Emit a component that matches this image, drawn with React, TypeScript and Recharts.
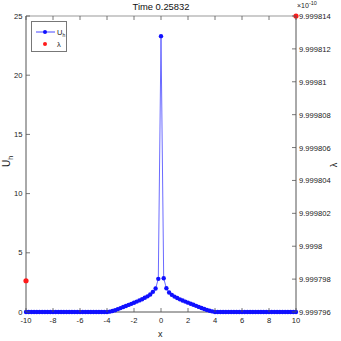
import { ComposedChart, Line, Scatter, XAxis, YAxis } from "recharts";

const xs = [
  -10, -9.8, -9.6, -9.4, -9.2, -9, -8.8, -8.6, -8.4, -8.2, -8, -7.8, -7.6, -7.4, -7.2, -7, -6.8, -6.6, -6.4, -6.2,
  -6, -5.8, -5.6, -5.4, -5.2, -5, -4.8, -4.6, -4.4, -4.2, -4, -3.8, -3.6, -3.4, -3.2, -3, -2.8, -2.6, -2.4, -2.2,
  -2, -1.8, -1.6, -1.4, -1.2, -1, -0.8, -0.6, -0.4, -0.2, 0, 0.2, 0.4, 0.6, 0.8, 1, 1.2, 1.4, 1.6, 1.8,
  2, 2.2, 2.4, 2.6, 2.8, 3, 3.2, 3.4, 3.6, 3.8, 4, 4.2, 4.4, 4.6, 4.8, 5, 5.2, 5.4, 5.6, 5.8,
  6, 6.2, 6.4, 6.6, 6.8, 7, 7.2, 7.4, 7.6, 7.8, 8, 8.2, 8.4, 8.6, 8.8, 9, 9.2, 9.4, 9.6, 9.8, 10,
];

const uh = [
  0, 0, 0, 0, 0, 0, 0, 0, 0, 0, 0, 0, 0, 0, 0, 0, 0, 0, 0, 0,
  0, 0, 0, 0, 0, 0, 0, 0, 0, 0, 0, 0.03, 0.08, 0.15, 0.24, 0.33, 0.42, 0.51, 0.6, 0.69,
  0.78, 0.88, 0.98, 1.08, 1.2, 1.32, 1.48, 1.7, 1.98, 2.8, 23.3, 2.85, 2.0, 1.65, 1.45, 1.3, 1.18, 1.07, 0.97, 0.88,
  0.79, 0.7, 0.61, 0.52, 0.43, 0.34, 0.25, 0.17, 0.1, 0.05, 0, 0, 0, 0, 0, 0, 0, 0, 0, 0,
  0, 0, 0, 0, 0, 0, 0, 0, 0, 0, 0, 0, 0, 0, 0, 0, 0, 0, 0, 0, 0,
];

const lambdaX = [-10, 10];
const lambdaVal = [9.9997979, 9.999814];

const xTicks = [-10, -8, -6, -4, -2, 0, 2, 4, 6, 8, 10];
const uTicks = [0, 5, 10, 15, 20, 25];
const lambdaTicks = [
  9.999796, 9.999798, 9.9998, 9.999802, 9.999804, 9.999806, 9.999808, 9.99981, 9.999812, 9.999814,
];

const title = "Time 0.25832";

const data = xs.map((x, i) => ({ x, u: uh[i] }));
const lambdaData = lambdaX.map((x, i) => ({ x, lam: lambdaVal[i] }));

const AXIS = "#555";
const FONT = "'Liberation Sans', Arial, sans-serif";
const TICK_LEN = 4;
const M = 4;

const BottomTick = ({ x, y, payload }: any) => (
  <g>
    <line x1={x} x2={x} y1={y - M} y2={y - M - TICK_LEN} stroke={AXIS} strokeWidth={0.8} />
    <text x={x} y={y + 7} textAnchor="middle" fontSize={7.6} fill="#222" fontFamily={FONT}>
      {payload.value}
    </text>
  </g>
);

const TopTick = ({ x, y }: any) => (
  <line x1={x} x2={x} y1={y + M} y2={y + M + TICK_LEN} stroke={AXIS} strokeWidth={0.8} />
);

const LeftTick = ({ x, y, payload }: any) => (
  <g>
    <line x1={x + M} x2={x + M + TICK_LEN} y1={y} y2={y} stroke={AXIS} strokeWidth={0.8} />
    <text x={x + 0.5} y={y + 2.5} textAnchor="end" fontSize={7.6} fill="#222" fontFamily={FONT}>
      {payload.value}
    </text>
  </g>
);

const RightTick = ({ x, y, payload }: any) => (
  <g>
    <line x1={x - M} x2={x - M - TICK_LEN} y1={y} y2={y} stroke={AXIS} strokeWidth={0.8} />
    <text x={x - 1} y={y + 3} textAnchor="start" fontSize={7.6} fill="#222" fontFamily={FONT}>
      {parseFloat(Number(payload.value).toFixed(6)).toString()}
    </text>
  </g>
);

export default function App() {
  return (
    <div style={{ position: "absolute", left: 0, top: 0, width: 341, height: 341, background: "#fff", fontFamily: FONT }}>
      <ComposedChart width={341} height={341} data={data} margin={{ top: 10, left: 6, right: 5, bottom: 9 }}>
        <XAxis
          dataKey="x"
          type="number"
          domain={[-10, 10]}
          ticks={xTicks}
          height={20}
          tickSize={0}
          tickMargin={M}
          tick={<BottomTick />}
          stroke={AXIS}
          interval={0}
        />
        <XAxis
          xAxisId="top"
          orientation="top"
          dataKey="x"
          type="number"
          domain={[-10, 10]}
          ticks={xTicks}
          height={6}
          tickSize={0}
          tickMargin={M}
          tick={<TopTick />}
          stroke="#999"
          interval={0}
        />
        <YAxis
          yAxisId="left"
          type="number"
          domain={[0, 25]}
          ticks={uTicks}
          width={20}
          tickSize={0}
          tickMargin={M}
          tick={<LeftTick />}
          stroke={AXIS}
          interval={0}
        />
        <YAxis
          yAxisId="right"
          orientation="right"
          type="number"
          domain={[9.999796, 9.999814]}
          ticks={lambdaTicks}
          width={40}
          tickSize={0}
          tickMargin={M}
          tick={<RightTick />}
          stroke={AXIS}
          interval={0}
        />
        <Line
          yAxisId="left"
          dataKey="u"
          type="linear"
          stroke="#5a5aff"
          strokeWidth={0.9}
          dot={{ r: 2.2, fill: "#1010ff", stroke: "none" }}
          isAnimationActive={false}
        />
        <Scatter
          yAxisId="right"
          data={lambdaData}
          dataKey="lam"
          fill="#ff0000"
          shape={(p: any) => <circle cx={p.cx} cy={p.cy} r={2.6} fill="#ff1a1a" />}
          isAnimationActive={false}
        />
      </ComposedChart>

      <div style={{ position: "absolute", left: 0, width: 322, top: 1, textAlign: "center", fontSize: 9.4, color: "#111" }}>
        {title}
      </div>
      <div style={{ position: "absolute", left: 297, top: 0, fontSize: 7, color: "#222" }}>
        ×10<sup style={{ fontSize: 5.5 }}>-10</sup>
      </div>
      <div style={{ position: "absolute", left: 158, top: 329, fontSize: 9, color: "#222" }}>x</div>
      <div
        style={{
          position: "absolute",
          left: 2,
          top: 155,
          fontSize: 10,
          color: "#222",
          transform: "rotate(-90deg)",
          whiteSpace: "nowrap",
        }}
      >
        U<sub style={{ fontSize: 7 }}>h</sub>
      </div>
      <div
        style={{
          position: "absolute",
          left: 332,
          top: 160,
          fontSize: 9,
          color: "#222",
          transform: "rotate(-90deg)",
        }}
      >
        λ
      </div>

      <div
        style={{
          position: "absolute",
          left: 31,
          top: 21,
          width: 34,
          height: 29,
          border: "0.8px solid #777",
          background: "#fff",
        }}
      >
        <svg width={34} height={29} style={{ position: "absolute", left: 0, top: 0 }}>
          <line x1={4} x2={23} y1={10} y2={10} stroke="#3333ff" strokeWidth={0.9} />
          <circle cx={13} cy={10} r={2} fill="#1010ff" />
          <circle cx={13} cy={22} r={2} fill="#ff1a1a" />
          <text x={25} y={13} fontSize={7.5} fill="#222" fontFamily={FONT}>
            U<tspan fontSize={5} dy={1.5}>h</tspan>
          </text>
          <text x={25} y={25} fontSize={7.5} fill="#222" fontFamily={FONT}>
            λ
          </text>
        </svg>
      </div>
    </div>
  );
}
